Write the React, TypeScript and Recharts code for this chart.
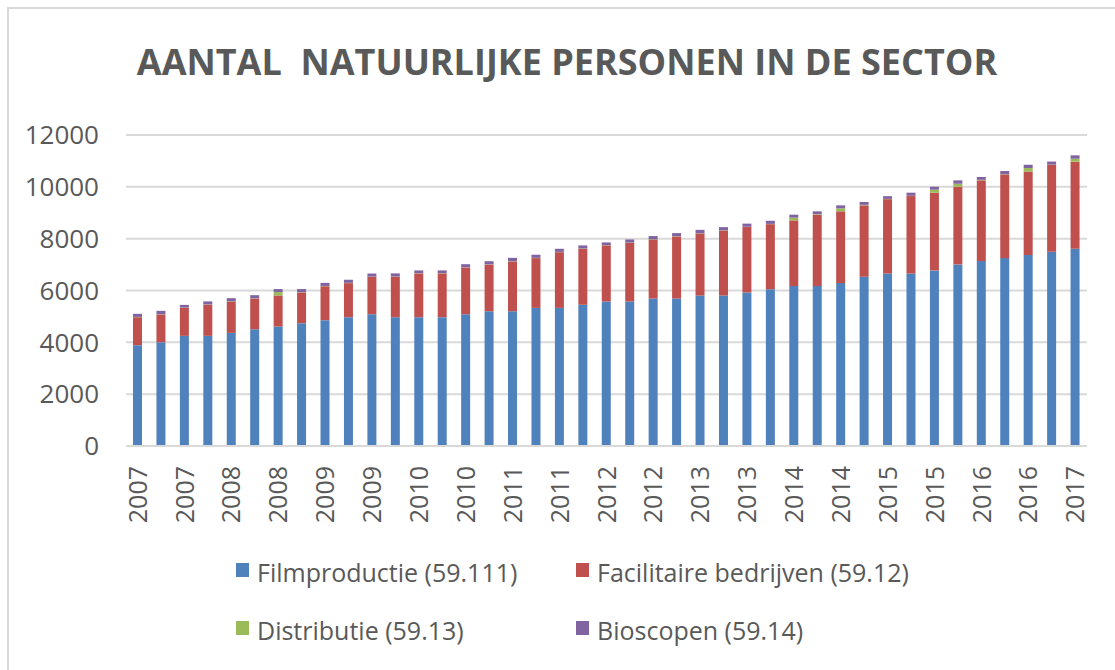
import { BarChart, Bar, XAxis, YAxis, CartesianGrid } from 'recharts';

// kwartalen 2007 K1 t/m 2017 K1
const quarters = [
  '2007 K1', '2007 K2', '2007 K3', '2007 K4',
  '2008 K1', '2008 K2', '2008 K3', '2008 K4',
  '2009 K1', '2009 K2', '2009 K3', '2009 K4',
  '2010 K1', '2010 K2', '2010 K3', '2010 K4',
  '2011 K1', '2011 K2', '2011 K3', '2011 K4',
  '2012 K1', '2012 K2', '2012 K3', '2012 K4',
  '2013 K1', '2013 K2', '2013 K3', '2013 K4',
  '2014 K1', '2014 K2', '2014 K3', '2014 K4',
  '2015 K1', '2015 K2', '2015 K3', '2015 K4',
  '2016 K1', '2016 K2', '2016 K3', '2016 K4',
  '2017 K1',
];

const filmproductie = [
  3890, 4005, 4250, 4250, 4365, 4505, 4610, 4740, 4855, 4970,
  5085, 4970, 4970, 4970, 5085, 5200, 5200, 5330, 5330, 5450,
  5575, 5575, 5690, 5690, 5805, 5805, 5925, 6050, 6170, 6170,
  6285, 6530, 6655, 6655, 6775, 7005, 7135, 7250, 7365, 7495,
  7610,
];

const facilitair = [
  1080, 1070, 1080, 1200, 1210, 1185, 1200, 1185, 1310, 1315,
  1440, 1560, 1690, 1690, 1800, 1800, 1920, 1920, 2150, 2160,
  2165, 2265, 2280, 2395, 2395, 2510, 2525, 2510, 2535, 2755,
  2770, 2755, 2870, 2990, 3000, 3000, 3115, 3230, 3230, 3350,
  3360,
];

const distributie = [
  10, 10, 10, 10, 10, 10, 130, 10, 10, 10,
  10, 10, 10, 10, 10, 10, 10, 10, 10, 10,
  10, 10, 10, 10, 10, 10, 10, 10, 105, 20,
  115, 20, 10, 10, 115, 115, 20, 10, 130, 10,
  115,
];

const bioscopen = [
  120, 130, 105, 120, 120, 120, 115, 120, 120, 120,
  120, 120, 105, 105, 120, 120, 130, 120, 120, 120,
  105, 120, 120, 120, 130, 120, 120, 120, 115, 110,
  115, 110, 105, 120, 115, 130, 110, 120, 130, 120,
  130,
];

const yTicks = [0, 2000, 4000, 6000, 8000, 10000, 12000];

const series = [
  { key: 'film', name: 'Filmproductie (59.111)', color: '#4F81BD' },
  { key: 'facilitair', name: 'Facilitaire bedrijven (59.12)', color: '#C0504D' },
  { key: 'distributie', name: 'Distributie (59.13)', color: '#9BBB59' },
  { key: 'bioscopen', name: 'Bioscopen (59.14)', color: '#8064A2' },
];

const chartData = quarters.map((q, i) => ({
  quarter: q,
  film: filmproductie[i],
  facilitair: facilitair[i],
  distributie: distributie[i],
  bioscopen: bioscopen[i],
}));

const FONT = '"Open Sans", sans-serif';
const TEXT = '#595959';
const GRID = '#d9d9d9';

function YearTick({ x, y, payload }: any) {
  return (
    <text
      x={x}
      y={y}
      transform={`rotate(-90, ${x}, ${y})`}
      textAnchor="end"
      dy="0.36em"
      fill={TEXT}
      fontSize={25}
      fontFamily={FONT}
    >
      {String(payload.value).slice(0, 4)}
    </text>
  );
}

// legenda: 2 kolommen, 2 rijen
const legendPos = [
  { x: 236, y: 582 },
  { x: 576, y: 582 },
  { x: 236, y: 640 },
  { x: 576, y: 640 },
];

export default function App() {
  return (
    <div style={{ position: 'absolute', left: 0, top: 0, width: 1115, height: 670, overflow: 'hidden', background: '#fff' }}>
      <style>{'html,body{overflow:hidden}'}</style>
      <div
        style={{
          position: 'absolute',
          left: 7,
          top: 7,
          width: 1200,
          height: 800,
          border: `2px solid ${GRID}`,
        }}
      />
      <div style={{ position: 'absolute', left: 0, top: 0 }}>
        <BarChart
          width={1115}
          height={670}
          data={chartData}
          margin={{ top: 135, right: 28, left: 0, bottom: 124 }}
          barSize={9}
        >
          <CartesianGrid vertical={false} stroke={GRID} strokeWidth={2} />
          <XAxis
            dataKey="quarter"
            interval={1}
            height={100}
            tickLine={false}
            tickSize={0}
            tickMargin={20}
            axisLine={{ stroke: GRID, strokeWidth: 2 }}
            tick={<YearTick />}
          />
          <YAxis
            width={126}
            domain={[0, 12000]}
            ticks={yTicks}
            axisLine={false}
            tickLine={false}
            tickSize={0}
            tickMargin={27}
            tick={{ fill: TEXT, fontSize: 26, fontFamily: FONT }}
          />
          {series.map(s => (
            <Bar key={s.key} dataKey={s.key} name={s.name} stackId="a" fill={s.color} isAnimationActive={false} />
          ))}
        </BarChart>
      </div>
      <svg width={1115} height={670} style={{ position: 'absolute', left: 0, top: 0, pointerEvents: 'none' }}>
        <text
          x={567}
          y={75}
          textAnchor="middle"
          fill={TEXT}
          fontSize={36}
          fontWeight="bold"
          fontFamily={FONT}
          style={{ whiteSpace: 'pre' }}
        >
          {'AANTAL  NATUURLIJKE PERSONEN IN DE SECTOR'}
        </text>
        {series.map((s, i) => (
          <g key={s.key}>
            <rect x={legendPos[i].x} y={legendPos[i].y - 19} width={13} height={14} fill={s.color} />
            <text x={legendPos[i].x + 21} y={legendPos[i].y} fill={TEXT} fontSize={25} fontFamily={FONT}>
              {s.name}
            </text>
          </g>
        ))}
      </svg>
    </div>
  );
}
